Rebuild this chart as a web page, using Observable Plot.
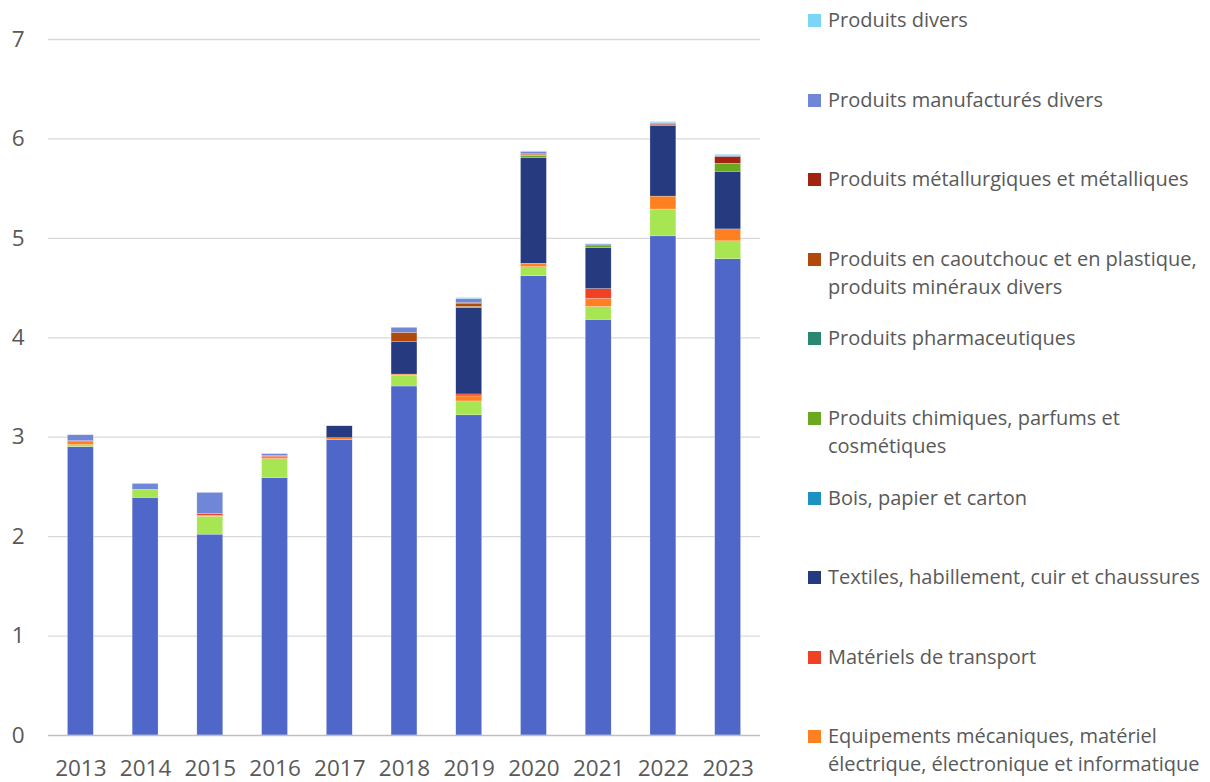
<!DOCTYPE html>
<html>
<head>
<meta charset="utf-8">
<script src="https://cdn.jsdelivr.net/npm/d3@7"></script>
<script src="https://cdn.jsdelivr.net/npm/@observablehq/plot@0.6"></script>
<style>
  html, body { margin: 0; padding: 0; background: #fff; }
  body { width: 1210px; height: 782px; position: relative; overflow: hidden; font-family: "Open Sans", "Noto Sans", sans-serif; }
  #chart { position: absolute; left: 0; top: 0; }
  #legend { position: absolute; left: 806px; top: 6px; width: 404px; color: #595959; font-size: 20px; }
  .item { height: 79.6px; position: relative; }
  .sw { position: absolute; left: 2px; top: 8px; width: 13px; height: 13px; }
  .lbl { position: absolute; left: 22px; top: 0; line-height: 28px; white-space: nowrap; }
</style>
</head>
<body>
<div id="chart"></div>
<div id="legend"></div>
<script>
const years = ["2013","2014","2015","2016","2017","2018","2019","2020","2021","2022","2023"];
const yTicks = [0,1,2,3,4,5,6,7];

// series, bottom of stack to top
const seriesNames = [
  "Produits agricoles, sylvicoles, de la pêche et de l'aquaculture",
  "Produits des industries agroalimentaires",
  "Equipements mécaniques, matériel électrique, électronique et informatique",
  "Matériels de transport",
  "Textiles, habillement, cuir et chaussures",
  "Bois, papier et carton",
  "Produits chimiques, parfums et cosmétiques",
  "Produits pharmaceutiques",
  "Produits en caoutchouc et en plastique, produits minéraux divers",
  "Produits métallurgiques et métalliques",
  "Produits manufacturés divers",
  "Produits divers"
];
const legendLabels = [
  "Produits agricoles, sylvicoles, de la pêche et de l'aquaculture",
  "Produits des industries agroalimentaires",
  "Equipements mécaniques, matériel<br>électrique, électronique et informatique",
  "Matériels de transport",
  "Textiles, habillement, cuir et chaussures",
  "Bois, papier et carton",
  "Produits chimiques, parfums et<br>cosmétiques",
  "Produits pharmaceutiques",
  "Produits en caoutchouc et en plastique,<br>produits minéraux divers",
  "Produits métallurgiques et métalliques",
  "Produits manufacturés divers",
  "Produits divers"
];
const seriesColors = ["#4e67c8","#a7e652","#ff8021","#f14124","#263a7f","#1c92c2","#69a81f","#2b8870","#b0490c","#a32311","#7086d7","#7bd6f5"];

const agricoles   = [2.90,2.39,2.02,2.59,2.97,3.51,3.22,4.62,4.18,5.02,4.79];
const iaa         = [0.02,0.08,0.18,0.19,0.00,0.11,0.14,0.09,0.13,0.27,0.18];
const equipements = [0.03,0.00,0.01,0.02,0.02,0.01,0.05,0.03,0.08,0.13,0.12];
const transport   = [0.01,0.00,0.02,0.01,0.00,0.00,0.02,0.005,0.10,0.00,0.00];
const textiles    = [0.00,0.00,0.00,0.00,0.12,0.33,0.87,1.06,0.41,0.71,0.58];
const bois        = [0,0,0,0,0,0,0,0,0,0,0];
const chimiques   = [0,0,0,0,0,0,0.01,0.02,0.02,0.00,0.08];
const pharma      = [0,0,0,0,0,0,0,0.005,0.01,0,0];
const caoutchouc  = [0,0,0,0,0,0.09,0.03,0.01,0,0.01,0];
const metal       = [0,0,0,0,0,0,0.01,0.01,0,0.01,0.07];
const manufactures= [0.06,0.06,0.21,0.02,0,0.05,0.04,0.02,0.01,0.01,0.01];
const divers      = [0,0,0,0,0,0,0.01,0.005,0,0.01,0.01];

const seriesValues = [agricoles, iaa, equipements, transport, textiles, bois, chimiques, pharma, caoutchouc, metal, manufactures, divers];

const data = [];
seriesNames.forEach((s, i) => years.forEach((y, j) => data.push({year: y, series: s, value: seriesValues[i][j]})));

const chart = Plot.plot({
  width: 790,
  height: 782,
  marginLeft: 48,
  marginRight: 30,
  marginTop: 39,
  marginBottom: 47,
  style: { fontFamily: "'Open Sans', 'Noto Sans', sans-serif", fontSize: "22.5px", color: "#595959", background: "#fff" },
  x: { domain: years, paddingInner: 0.6, paddingOuter: 0.3, round: false, label: null, tickSize: 0, tickPadding: 25 },
  y: { domain: [0, 7], ticks: yTicks, label: null, tickSize: 0, tickPadding: 24, tickFormat: d3.format("d") },
  color: { domain: seriesNames, range: seriesColors },
  marks: [
    Plot.ruleY(yTicks.slice(1), { stroke: "#d9d9d9", strokeWidth: 1.3 }),
    Plot.barY(data, { x: "year", y: "value", fill: "series", order: seriesNames, stroke: "#ffffff", strokeWidth: 0.4, strokeOpacity: 0.6 }),
    Plot.ruleY([0], { stroke: "#bfbfbf", strokeWidth: 1.5 })
  ]
});
document.getElementById("chart").appendChild(chart);

// legend: visible part (top of the stack first), as in the reference
const legend = document.getElementById("legend");
const shown = seriesNames.map((s, i) => i).filter(i => i >= 2).reverse();
shown.forEach(i => {
  const div = document.createElement("div");
  div.className = "item";
  div.innerHTML = `<span class="sw" style="background:${seriesColors[i]}"></span><span class="lbl">${legendLabels[i]}</span>`;
  legend.appendChild(div);
});
</script>
</body>
</html>
